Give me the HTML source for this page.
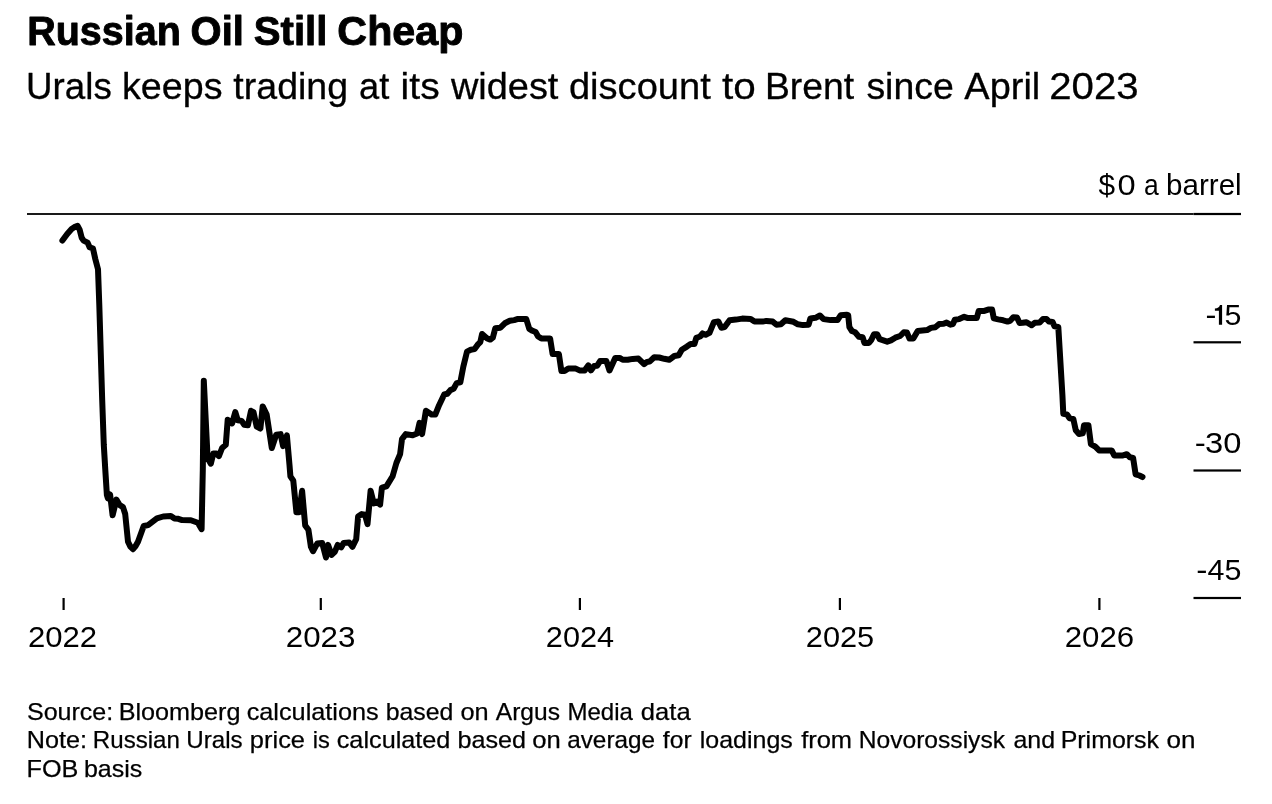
<!DOCTYPE html>
<html lang="en">
<head>
<meta charset="utf-8">
<title>Russian Oil Still Cheap</title>
<style>
html,body{margin:0;padding:0;background:#fff;}
body{width:1272px;height:804px;overflow:hidden;font-family:"Liberation Sans",sans-serif;}
svg{display:block;will-change:transform;}
svg text{font-family:"Liberation Sans",sans-serif;fill:#000;}
</style>
</head>
<body>
<svg width="1272" height="804" viewBox="0 0 1272 804">
<rect width="1272" height="804" fill="#fff"/>
<g font-size="40.5" font-weight="bold" stroke="#000" stroke-width="0.9" stroke-linejoin="round">
<text x="27.21" y="45.4" textLength="153.59" lengthAdjust="spacingAndGlyphs">Russian</text>
<text x="190.61" y="45.4" textLength="53.27" lengthAdjust="spacingAndGlyphs">Oil</text>
<text x="253.79" y="45.4" textLength="73.60" lengthAdjust="spacingAndGlyphs">Still</text>
<text x="337.36" y="45.4" textLength="125.98" lengthAdjust="spacingAndGlyphs">Cheap</text>
</g>
<g font-size="37" stroke="#000" stroke-width="0.3" stroke-linejoin="round">
<text x="26.12" y="98.9" textLength="85.66" lengthAdjust="spacingAndGlyphs">Urals</text>
<text x="122.01" y="98.9" textLength="100.50" lengthAdjust="spacingAndGlyphs">keeps</text>
<text x="233.38" y="98.9" textLength="114.69" lengthAdjust="spacingAndGlyphs">trading</text>
<text x="359.01" y="98.9" textLength="30.20" lengthAdjust="spacingAndGlyphs">at</text>
<text x="400.64" y="98.9" textLength="39.02" lengthAdjust="spacingAndGlyphs">its</text>
<text x="450.91" y="98.9" textLength="107.52" lengthAdjust="spacingAndGlyphs">widest</text>
<text x="568.95" y="98.9" textLength="141.78" lengthAdjust="spacingAndGlyphs">discount</text>
<text x="722.04" y="98.9" textLength="33.71" lengthAdjust="spacingAndGlyphs">to</text>
<text x="764.99" y="98.9" textLength="89.13" lengthAdjust="spacingAndGlyphs">Brent</text>
<text x="866.41" y="98.9" textLength="87.41" lengthAdjust="spacingAndGlyphs">since</text>
<text x="964.38" y="98.9" textLength="75.91" lengthAdjust="spacingAndGlyphs">April</text>
<text x="1049.23" y="98.9" textLength="89.39" lengthAdjust="spacingAndGlyphs">2023</text>
</g>
<g font-size="29">
<text x="1098.48" y="194.9" textLength="16.60" lengthAdjust="spacingAndGlyphs">$</text>
<text x="1117.43" y="194.9" textLength="18.15" lengthAdjust="spacingAndGlyphs">0</text>
<text x="1143.88" y="194.9" textLength="14.72" lengthAdjust="spacingAndGlyphs">a</text>
<text x="1166.09" y="194.9" textLength="75.58" lengthAdjust="spacingAndGlyphs">barrel</text>
</g>
<g font-size="29">
<text x="1205.44" y="324.8" textLength="10.91" lengthAdjust="spacingAndGlyphs">-</text>
<text x="1224.48" y="324.8" textLength="16.89" lengthAdjust="spacingAndGlyphs">5</text>
</g>
<g font-size="29">
<text x="1194.73" y="453.0" textLength="11.05" lengthAdjust="spacingAndGlyphs">-</text>
<text x="1205.06" y="453.0" textLength="36.32" lengthAdjust="spacingAndGlyphs">30</text>
</g>
<g font-size="29">
<text x="1196.31" y="579.7" textLength="11.18" lengthAdjust="spacingAndGlyphs">-</text>
<text x="1207.60" y="579.7" textLength="33.88" lengthAdjust="spacingAndGlyphs">45</text>
</g>
<g font-size="29">
<text x="27.99" y="646.9" textLength="69.18" lengthAdjust="spacingAndGlyphs">2022</text>
<text x="285.83" y="646.9" textLength="69.55" lengthAdjust="spacingAndGlyphs">2023</text>
<text x="545.86" y="646.9" textLength="68.14" lengthAdjust="spacingAndGlyphs">2024</text>
<text x="805.86" y="646.9" textLength="68.33" lengthAdjust="spacingAndGlyphs">2025</text>
<text x="1064.73" y="646.9" textLength="69.34" lengthAdjust="spacingAndGlyphs">2026</text>
</g>
<g font-size="24" stroke="#000" stroke-width="0.25" stroke-linejoin="round">
<text x="26.99" y="719.5" textLength="86.27" lengthAdjust="spacingAndGlyphs">Source:</text>
<text x="118.66" y="719.5" textLength="121.74" lengthAdjust="spacingAndGlyphs">Bloomberg</text>
<text x="246.65" y="719.5" textLength="132.04" lengthAdjust="spacingAndGlyphs">calculations</text>
<text x="385.72" y="719.5" textLength="67.65" lengthAdjust="spacingAndGlyphs">based</text>
<text x="460.46" y="719.5" textLength="28.16" lengthAdjust="spacingAndGlyphs">on</text>
<text x="495.78" y="719.5" textLength="64.19" lengthAdjust="spacingAndGlyphs">Argus</text>
<text x="567.45" y="719.5" textLength="65.42" lengthAdjust="spacingAndGlyphs">Media</text>
<text x="640.85" y="719.5" textLength="49.83" lengthAdjust="spacingAndGlyphs">data</text>
</g>
<g font-size="24" stroke="#000" stroke-width="0.25" stroke-linejoin="round">
<text x="26.86" y="748.4" textLength="60.22" lengthAdjust="spacingAndGlyphs">Note:</text>
<text x="92.85" y="748.4" textLength="87.09" lengthAdjust="spacingAndGlyphs">Russian</text>
<text x="186.36" y="748.4" textLength="56.28" lengthAdjust="spacingAndGlyphs">Urals</text>
<text x="249.89" y="748.4" textLength="55.12" lengthAdjust="spacingAndGlyphs">price</text>
<text x="312.84" y="748.4" textLength="17.09" lengthAdjust="spacingAndGlyphs">is</text>
<text x="336.75" y="748.4" textLength="113.65" lengthAdjust="spacingAndGlyphs">calculated</text>
<text x="457.40" y="748.4" textLength="68.60" lengthAdjust="spacingAndGlyphs">based</text>
<text x="532.25" y="748.4" textLength="28.49" lengthAdjust="spacingAndGlyphs">on</text>
<text x="567.19" y="748.4" textLength="87.86" lengthAdjust="spacingAndGlyphs">average</text>
<text x="662.88" y="748.4" textLength="28.71" lengthAdjust="spacingAndGlyphs">for</text>
<text x="699.84" y="748.4" textLength="92.93" lengthAdjust="spacingAndGlyphs">loadings</text>
<text x="801.16" y="748.4" textLength="50.89" lengthAdjust="spacingAndGlyphs">from</text>
<text x="858.71" y="748.4" textLength="146.33" lengthAdjust="spacingAndGlyphs">Novorossiysk</text>
<text x="1013.47" y="748.4" textLength="41.62" lengthAdjust="spacingAndGlyphs">and</text>
<text x="1060.68" y="748.4" textLength="98.36" lengthAdjust="spacingAndGlyphs">Primorsk</text>
<text x="1166.43" y="748.4" textLength="28.93" lengthAdjust="spacingAndGlyphs">on</text>
</g>
<g font-size="24" stroke="#000" stroke-width="0.25" stroke-linejoin="round">
<text x="26.61" y="776.8" textLength="51.80" lengthAdjust="spacingAndGlyphs">FOB</text>
<text x="83.92" y="776.8" textLength="58.26" lengthAdjust="spacingAndGlyphs">basis</text>
</g>
<rect x="27" y="213.0" width="1166.5" height="2" fill="#1a1a1a"/>
<rect x="1193.5" y="212.9" width="47.5" height="2.2" fill="#000"/>
<rect x="1193.5" y="341.2" width="47.5" height="2.2" fill="#000"/>
<rect x="1193.5" y="469.4" width="47.5" height="2.2" fill="#000"/>
<rect x="1193.5" y="596.9" width="47.5" height="2.2" fill="#000"/>
<rect x="62.5" y="598" width="2.2" height="12" fill="#000"/>
<rect x="319.7" y="598" width="2.2" height="12" fill="#000"/>
<rect x="578.8" y="598" width="2.2" height="12" fill="#000"/>
<rect x="838.8" y="598" width="2.2" height="12" fill="#000"/>
<rect x="1098.3000000000002" y="598" width="2.2" height="12" fill="#000"/>
<path d="M1222.1,304.9 L1222.1,324.85 L1218.9,324.85 L1218.9,310.7 L1214.9,310.7 L1214.9,308.4 C1217.6,308.3 1219.4,307.2 1220,304.9 Z" fill="#000"/>
<polyline fill="none" stroke="#000" stroke-width="6" stroke-linejoin="round" stroke-linecap="round" points="62.4,240.6 67.2,234 71.6,229 75.4,226.5 77.6,225.8 79.6,229.6 81.7,237.8 83.6,240.6 87.6,242.6 89.6,247.2 93,248.6 95.3,259 98,269.2 99.3,305 102.2,400 103.8,445 105.3,470 106.9,495.2 107.9,498.3 110.1,494.5 112.6,515.3 116.4,499.6 119.8,505.2 123,507.1 125.2,514 128,541.7 130.4,546.6 133,549.2 135.6,546 138,541.7 143.7,526 148.1,525.1 156.9,518.4 163.2,516.5 170.8,515.9 174.5,518.4 178.3,518.8 182.1,520.1 190.9,520.3 197.8,522.8 201.6,529.1 202.8,470 203.8,380.7 207.6,458 210.8,463.7 213.3,453.6 216.4,453.6 218.9,456.1 222.1,448 225.8,444.8 227.7,419.7 232.1,423.4 235.3,412.1 237.8,420.3 241.6,420.9 244.1,424.7 247.9,425.3 251,410.8 253.5,412.1 256.7,426.6 260.4,428.5 262.7,406.4 266.7,414.6 271.8,448 276.2,434.7 280.6,434.1 283.1,446.1 286.9,435.4 289.5,465 290.4,476.3 293.3,480.7 296.4,512.2 299.2,512.2 302.1,490.8 305.2,525.4 308.4,529.8 310.9,546.8 313,551.2 317.2,543.6 322.2,543 326,557.5 328.1,544.9 331.6,554.9 334.8,551.8 337.7,544.9 341.1,547.4 343.6,543 349.2,542.4 352.4,546.8 356.2,539.2 358.1,516.6 361.8,514.1 365,514.7 367.5,524.1 370.6,490.8 373.8,503.4 376.9,501.5 380.1,504.6 381.9,487.6 386.4,486.4 392.6,476.3 396.4,463 400.1,454.2 402,439.1 405.8,434.1 412.7,435.3 417.1,433.5 419.6,422.8 422.1,434.1 425.9,410.8 431.6,414.6 435.3,414.6 439.1,405.2 444.2,394.5 447.3,393.8 450.4,390.1 453.6,388.8 456.7,383.1 460.3,382.4 463.3,366.7 467,351.6 470.8,349.7 474.6,349.1 477.7,344.7 480.3,342.1 482.1,334 487.2,338.4 490.3,339.6 492.8,337.7 495.3,328.3 500.4,327.7 504.8,323.3 509.8,320.8 514.2,320.1 518,318.9 526.2,318.9 529.3,328.9 532.5,330.8 535.6,332.1 538.1,336.5 541.3,338.4 550.1,338.4 552.6,354.1 558.9,354.1 561.4,371.1 564.5,371.1 568.3,368.6 575.8,368.6 579.6,370.4 584.7,370.4 588.4,365.4 590.9,370.4 594.2,365.9 597.2,365.7 600.1,361.1 606.4,361.1 609.5,370.5 615.2,357.9 619.6,357.9 622.7,359.8 627.7,359.8 632.8,358.9 638.4,358.6 644.1,364.2 647,361.9 649.6,361.6 654.2,357.3 659.2,357.5 664.2,358.8 669.2,359.8 674.3,356 678.7,355.2 681.8,349.7 686.9,346.6 690.6,344.1 694.4,344.1 696.3,337.8 700.1,336.5 702.6,333.4 705.7,334.7 709.5,332.8 713.9,322.1 718.3,321.4 721.4,327.7 724.6,327.1 729.6,320.2 735.9,319.6 742.2,318.6 750.7,319.1 754.5,321.6 762.6,321.6 766.4,320.9 772.7,321.6 776.5,324.7 780.9,324.3 785.3,320.3 793.5,321.8 797.9,324.3 802.9,325.1 808.6,324.7 810.4,318.4 815.5,317.8 819.9,315.5 823.6,319.1 830.6,320.1 837.5,320.1 840.6,315.3 846.9,314.7 848.2,315.3 849.4,327.2 851.9,331 855.1,332.3 858.9,336.7 862.6,337.3 864.5,343 868.9,343 871.4,339.8 874,334.2 877.1,334.2 879.6,339.2 883.4,340.4 887.2,341.7 890.9,340.4 895.3,337.7 900.1,336 903.8,332.3 907,332.6 909.5,338.6 913.3,338.6 917.7,331 927.1,330.1 930.9,327.9 935.3,327.2 939.1,324.1 943.5,323.8 946.6,322.6 950.4,324.7 952.9,324.1 954.8,319.7 959.2,319.1 964.2,316.8 968,318.1 976.8,318.1 978.7,310.9 984.3,310.9 988.1,309.6 992.1,309.6 993.8,318.4 998.2,319.4 1003.2,320.3 1007.6,321.6 1010.1,320.9 1013.3,317.2 1017,317.5 1019.6,323.1 1022.7,322.8 1026.5,322.2 1031.5,325.3 1034.7,322.8 1039.7,322.6 1043,318.9 1046.5,318.9 1048.9,321.6 1052.6,322 1054.5,326.4 1058.3,327 1062.4,395 1063.3,413.9 1067,414.5 1069.6,418.3 1073.3,418.9 1075.8,430.3 1079,434 1082.8,433.4 1084,425.2 1088.4,425.2 1090.9,444.1 1095.3,446.6 1099.1,450.4 1111.7,450.4 1114.2,455.4 1123,455.4 1126.8,454.2 1129.9,457.3 1133.1,457.9 1135.6,474.3 1139.4,475.5 1142.5,477"/>
</svg>
</body>
</html>
